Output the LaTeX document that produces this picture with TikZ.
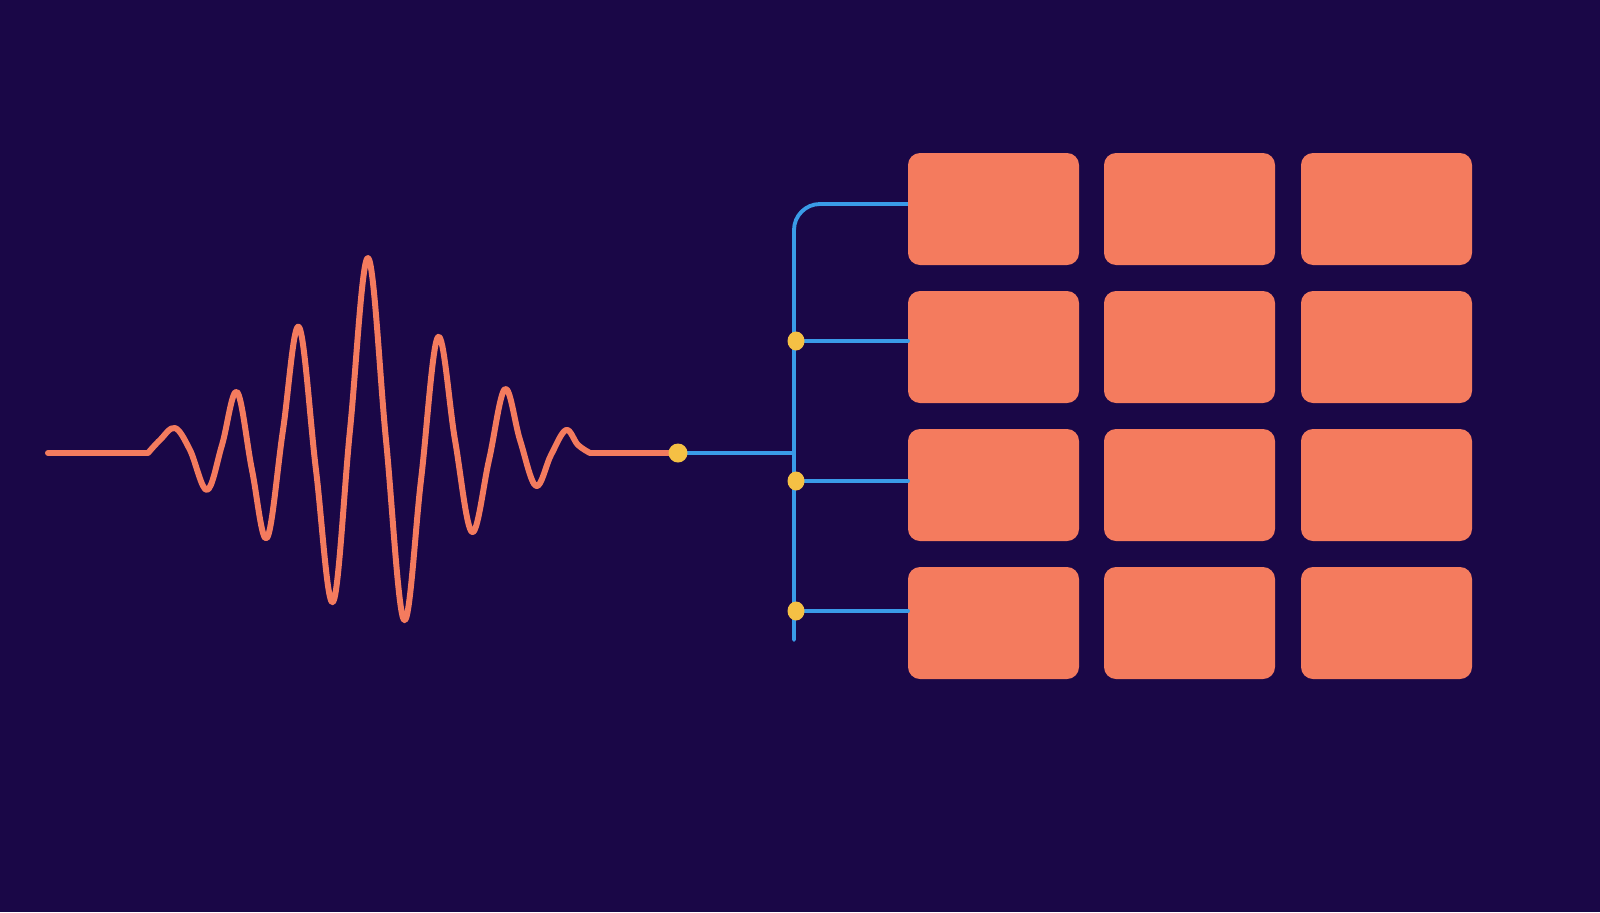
\documentclass[tikz,border=0pt]{standalone}
\usetikzlibrary{positioning}
\definecolor{bgpurple}{HTML}{1A0747}
\definecolor{wavered}{HTML}{F47B5E}
\definecolor{busblue}{HTML}{3A9BE8}
\definecolor{tapgold}{HTML}{F5C044}
\begin{document}
\begin{tikzpicture}
   [x=0.05cm,y=-0.05cm,line cap=round,line join=round,
     cell/.style={fill=wavered,rounded corners=0.6cm},
     wave/.style={wavered,line width=8.5pt},
     bus/.style={busblue,line width=5.5pt},
     tap/.style={fill=tapgold}]
%background
  \fill[bgpurple] (0,0) rectangle (1600,912);
  \useasboundingbox (0,0) rectangle (1600,912);
%the signal
  \draw[wave] (48,453) -- (148,453)
    plot[smooth,tension=0.6] coordinates {(148,453) (160,440) (175,428) (190,450) (207,490) (222,445) (237,392) (252,470) (267,538) (283,430) (299,327) (316,470) (333,602) (350,430) (368,258) (386,440) (404,620) (421,480) (438,337) (455,440) (472,532) (489,460) (505,389) (520,440) (536,486) (551,455) (566,430) (578,445) (590,453)}
    -- (678,453);
  \coordinate (in) at (678,453);
%the bus
  \coordinate (join) at (794,453);
  \draw[bus] (in) -- (join);
  \draw[bus] (794,640) -- (794,230) arc (180:270:26) -- (908,204);
  \fill[tap] (in) circle (9.5);
%the cells
  \foreach \r/\y in {1/153,2/291,3/429,4/567}
    \foreach \c/\x in {1/908,2/1104,3/1301}
      \fill[cell] (\x,\y) rectangle ++(171,112) coordinate (c\r\c);
%the taps
  \foreach \y in {341,481,611}{
    \draw[bus] (796,\y) -- (908,\y);
    \fill[tap] (796,\y) ellipse (8.5 and 9.5);
  }
\end{tikzpicture}
\end{document}
